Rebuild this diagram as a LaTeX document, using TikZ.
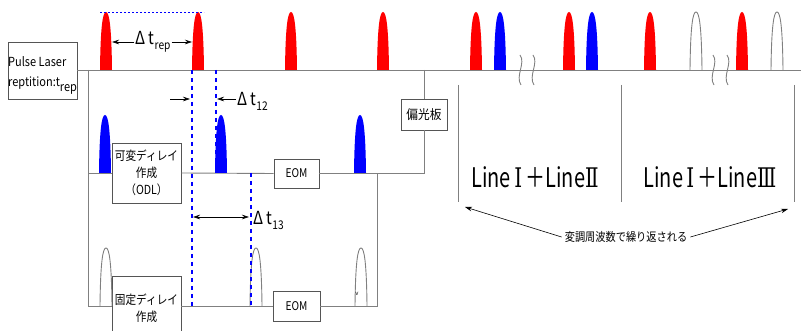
\documentclass[tikz,border=0pt]{standalone}
\usepackage{fontspec}
\setmainfont{Noto Sans CJK JP}
\newfontfamily\numfont{DejaVu Serif}
\usetikzlibrary{positioning,arrows.meta}

\definecolor{wire}{RGB}{128,128,128}
\definecolor{edge}{RGB}{85,85,85}

% narrow text
\newcommand{\nrw}[2][0.85]{\scalebox{#1}[1]{#2}}

% pulse: colour, x, base y
\newcommand{\pulse}[3]{%
  \fill[#1] (#2-6,#3) .. controls (#2-5.5,#3-46) and (#2-3,#3-58) .. (#2,#3-58)
    .. controls (#2+3,#3-58) and (#2+5.5,#3-46) .. (#2+6,#3) -- cycle;}
% empty pulse: x, base y
\newcommand{\hollow}[2]{%
  \fill[white] (#1-6,#2) .. controls (#1-5.5,#2-46) and (#1-3,#2-58) .. (#1,#2-58)
    .. controls (#1+3,#2-58) and (#1+5.5,#2-46) .. (#1+6,#2) -- cycle;
  \draw[wire, line width=0.9pt] (#1-6,#2) .. controls (#1-5.5,#2-46) and (#1-3,#2-58) .. (#1,#2-58)
    .. controls (#1+3,#2-58) and (#1+5.5,#2-46) .. (#1+6,#2);}
% break mark: x
\newcommand{\brk}[1]{%
  \draw[wire, line width=0.9pt] (#1,55) .. controls (#1+6,63) and (#1-5,76) .. (#1+1,85);}

\begin{document}
\begin{tikzpicture}[x=1pt,y=-1pt,
  box/.style={draw=edge, fill=white, line width=0.7pt, inner sep=0pt},
  wire/.style={draw=wire, line width=0.9pt},
  gate/.style={blue, line width=2.3pt, dash pattern=on 4pt off 4pt},
  marker/.style={-{Stealth[length=7pt,width=4.5pt]}, line width=0.6pt},
  lbl/.style={inner sep=1pt, font=\fontsize{18}{18}\selectfont},
  jp/.style={font=\fontsize{12.5}{17}\selectfont, align=center}]

\useasboundingbox (0,0) rectangle (801,331);

% ============================
% MAIN LINE
% ============================

\node[box, minimum width=69pt, minimum height=57pt] (laser) at (42.5,70.5) {};
\node[anchor=west, align=left, inner sep=0pt, font=\fontsize{12.5}{20}\selectfont]
  (lasertxt) at (8,75) {\nrw[0.88]{Pulse Laser}\\\nrw[0.88]{reptition:t\raisebox{-5pt}{rep}}};

\coordinate (mainEnd) at (801,70);
\coordinate (jL) at (88,70);
\coordinate (jP) at (424,70);
\draw[wire] (laser.east |- jL) -- (mainEnd);

% top pulses
\foreach \x in {106,198,291,383} {\pulse{red}{\x}{70}}
\foreach \x in {476,569,650,742} {\pulse{red}{\x}{70}}
\foreach \x in {500,592} {\pulse{blue}{\x}{70}}
\foreach \x in {696,777} {\hollow{\x}{70}}
\foreach \x in {520,533,713,727} {\brk{\x}}

% repetition period
\draw[blue, line width=0.6pt, dash pattern=on 2pt off 2pt] (100,12) -- (204,12);
\node[lbl] (trep) at (153,42) {\nrw{Δ t\raisebox{-5pt}{\fontsize{12}{12}\selectfont rep}}};
\coordinate (p1r) at (112,42);
\coordinate (p2l) at (192,42);
\draw[marker] (trep.west) -- (p1r);
\draw[marker] (trep.east) -- (p2l);

% ============================
% LINE II (VARIABLE DELAY)
% ============================

\node[box, minimum width=69pt, minimum height=60pt, jp] (odl) at (146.5,173)
  {\nrw{可変ディレイ}\\\nrw{作成}\\\nrw{（ODL）}};
\node[box, minimum width=45pt, minimum height=29pt, font=\fontsize{12}{12}\selectfont]
  (eom2) at (296.5,173.5) {\nrw{EOM}};
\node[box, minimum width=46pt, minimum height=31pt, font=\fontsize{13}{13}\selectfont]
  (pol) at (424,114.5) {\nrw[0.9]{偏光板}};

\coordinate (dL) at (88,306);
\coordinate (dR) at (377,306);
\coordinate (mR) at (377,173);

\draw[wire] (jL) -- (dL);
\draw[wire] (jL |- odl.west) -- (odl.west);
\draw[wire] (odl.east) -- (eom2.west);
\draw[wire] (eom2.east) -| (pol.south);
\draw[wire] (jP) -- (pol.north);

\foreach \x in {105,221,360} {\pulse{blue}{\x}{173}}

% ============================
% LINE III (FIXED DELAY)
% ============================

\node[box, minimum width=69pt, minimum height=57pt, anchor=north] (fix) at (146.5,276) {};
\node[jp, inner sep=0pt] (fixtxt) at (146.5,308.5) {\nrw{固定ディレイ}\\\nrw{作成}};
\node[box, minimum width=47pt, minimum height=30pt, font=\fontsize{12}{12}\selectfont]
  (eom3) at (296.5,306) {\nrw{EOM}};

\draw[wire] (dL) -- (fix.west |- dL);
\draw[wire] (fix.east |- dL) -- (eom3.west);
\draw[wire] (eom3.east) -- (dR) -- (mR);

\foreach \x in {106,256,361} {\hollow{\x}{306}}
\node[inner sep=0pt, font=\fontsize{6}{6}\selectfont] (tick) at (357,294) {v};

% ============================
% TIMING MARKS
% ============================

\draw[gate] (192,70) -- (192,306);
\draw[gate] (216,70) -- (216,173);
\draw[gate] (251,173) -- (251,306);

\node[lbl, anchor=west] (t12) at (236,101) {\nrw{Δ t\raisebox{-5pt}{\fontsize{12}{12}\selectfont 12}}};
\coordinate (t12a) at (170,99);
\coordinate (t12b) at (190,99);
\coordinate (t12c) at (217,99);
\draw[marker] (t12a) -- (t12b);
\draw[marker] (t12.west |- t12c) -- (t12c);

\coordinate (t13a) at (193,217);
\coordinate (t13b) at (249,217);
\draw[line width=0.6pt, {Stealth[length=7pt,width=4.5pt]}-{Stealth[length=7pt,width=4.5pt]}] (t13a) -- (t13b);
\node[lbl, anchor=west] (t13) at (252,220) {\nrw{Δ t\raisebox{-5pt}{\fontsize{12}{12}\selectfont 13}}};

% ============================
% RIGHT PANEL
% ============================

\foreach \x in {458,621,794} {\draw[wire, line width=0.7pt] (\x,85) -- (\x,202);}

\node[font=\fontsize{27}{27}\selectfont] (sum12) at (535,177) {\nrw[0.74]{Line\,{\numfont Ⅰ}\,＋Line{\numfont Ⅱ}}};
\node[font=\fontsize{27}{27}\selectfont] (sum13) at (710,177) {\nrw[0.74]{Line\,{\numfont Ⅰ}\,＋Line{\numfont Ⅲ}}};

\node[font=\fontsize{12}{12}\selectfont, inner sep=3pt] (cycle) at (626,237) {\nrw{変調周波数で繰り返される}};
\coordinate (cycL) at (465,207);
\coordinate (cycR) at (788,209);
\draw[marker] (cycle.west) -- (cycL);
\draw[marker] (cycle.east) -- (cycR);

\end{tikzpicture}
\end{document}
